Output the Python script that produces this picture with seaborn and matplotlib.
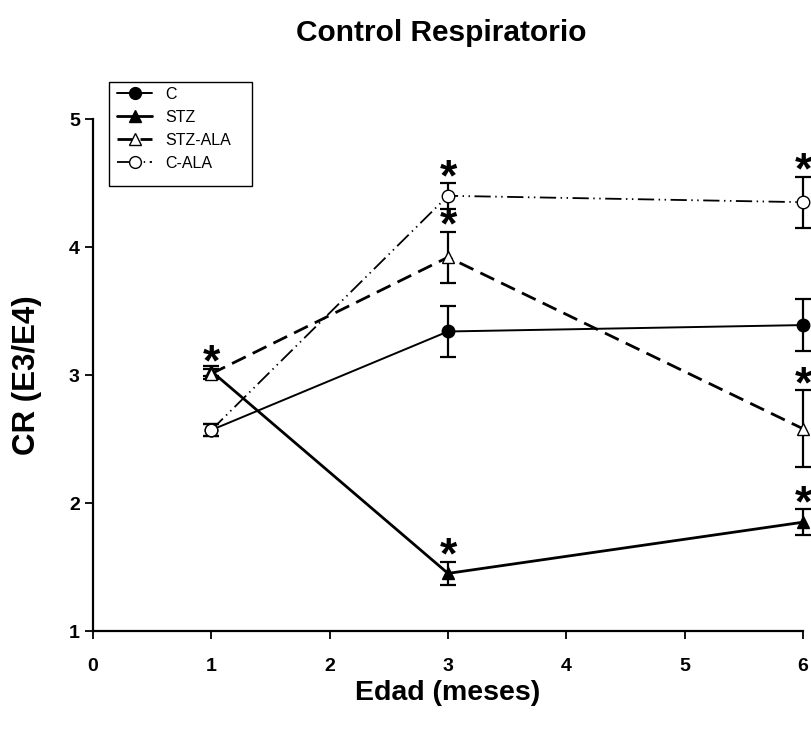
import matplotlib
matplotlib.use("Agg")
import matplotlib.pyplot as plt
from matplotlib.patches import Rectangle
import seaborn as sns
import pandas as pd

# ---- data ----
edad = [1, 3, 6]
grupos = ["C", "STZ", "STZ-ALA", "C-ALA"]
c_mean = [2.57, 3.34, 3.39]
c_se = [0.05, 0.20, 0.20]
stz_mean = [3.03, 1.45, 1.85]
stz_se = [0.04, 0.09, 0.10]
stzala_mean = [3.01, 3.92, 2.58]
stzala_se = [0.04, 0.20, 0.30]
cala_mean = [2.57, 4.40, 4.35]
cala_se = [0.05, 0.10, 0.20]
# significance stars: (x, group)
stars = [(1, "STZ-ALA"), (3, "C-ALA"), (3, "STZ-ALA"), (3, "STZ"),
         (6, "C-ALA"), (6, "STZ-ALA"), (6, "STZ")]
x_ticks = [0, 1, 2, 3, 4, 5, 6]
y_ticks = [1, 2, 3, 4, 5]

means = {"C": c_mean, "STZ": stz_mean, "STZ-ALA": stzala_mean, "C-ALA": cala_mean}
ses = {"C": c_se, "STZ": stz_se, "STZ-ALA": stzala_se, "C-ALA": cala_se}

rows = []
for g in grupos:
    for x, m, s in zip(edad, means[g], ses[g]):
        rows.append({"Edad": x, "CR": m, "SE": s, "Grupo": g})
df = pd.DataFrame(rows)

sns.set_theme(style="ticks")
plt.rcParams["font.family"] = ["Liberation Sans", "DejaVu Sans"]
for k in ["text.color", "axes.labelcolor", "xtick.color", "ytick.color", "axes.edgecolor"]:
    plt.rcParams[k] = "black"

styles = {
    "C": dict(marker="o", mfc="black", lw=1.4, ls="-", ms=9),
    "STZ": dict(marker="^", mfc="black", lw=2.0, ls="-", ms=9),
    "STZ-ALA": dict(marker="^", mfc="white", lw=2.0, ls=(0, (5.5, 2.8)), ms=9),
    "C-ALA": dict(marker="o", mfc="white", lw=1.3, ls=(0, (9, 2.5, 0.8, 2.5, 0.8, 2.5)), ms=9),
}

W, H = 812, 731
fig = plt.figure(figsize=(W / 100, H / 100), dpi=100)
ax = fig.add_axes([93 / W, 1 - 631 / H, 710 / W, 512 / H])

for g in grupos:
    sub = df[df["Grupo"] == g]
    eb = ax.errorbar(sub["Edad"], sub["CR"], yerr=sub["SE"], fmt="none", ecolor="black",
                     elinewidth=1.6, capsize=5.5, capthick=1.6, zorder=2)
    for art in eb.lines[1] + eb.lines[2]:
        art.set_clip_on(False)

for g in grupos:
    sub = df[df["Grupo"] == g]
    st = styles[g]
    sns.lineplot(data=sub, x="Edad", y="CR", ax=ax, color="black", marker=st["marker"],
                 markerfacecolor=st["mfc"], markeredgecolor="black", markeredgewidth=1.0,
                 markersize=st["ms"], linewidth=st["lw"], linestyle=st["ls"],
                 label=g, zorder=3, errorbar=None, clip_on=False)

for x, g in stars:
    i = edad.index(x)
    top = means[g][i] + ses[g][i]
    ax.annotate("*", xy=(x, top), xytext=(0, -11.5), textcoords="offset points",
                ha="center", va="bottom", fontsize=32, fontweight="bold", zorder=4,
                annotation_clip=False)

ax.set_xlim(0, 6)
ax.set_ylim(1, 5)
ax.set_xticks(x_ticks)
ax.set_yticks(y_ticks)
ax.tick_params(axis="both", labelsize=14, width=1.3, length=5.5, direction="out")
ax.tick_params(axis="x", pad=14)
ax.tick_params(axis="y", pad=4)
for lab in ax.get_xticklabels() + ax.get_yticklabels():
    lab.set_fontweight("bold")
for sp in ["top", "right"]:
    ax.spines[sp].set_visible(False)
for sp in ["left", "bottom"]:
    ax.spines[sp].set_linewidth(1.6)
    ax.spines[sp].set_color("black")

ax.set_xlabel("Edad (meses)", fontsize=20.5, fontweight="bold", va="center")
ax.set_ylabel("CR (E3/E4)", fontsize=22.5, fontweight="bold")
ax.xaxis.set_label_coords(0.5, (631 - 693) / 512)
ax.yaxis.set_label_coords((42 - 93) / 710, 0.5)
fig.text(0.543, 0.955, "Control Respiratorio", fontsize=21.5, fontweight="bold",
         ha="center", va="center")

leg = ax.legend(loc="upper left", bbox_to_anchor=(117 / W, 1 - 87 / H),
                bbox_transform=fig.transFigure, fontsize=11.5, frameon=False,
                handlelength=2.2, borderpad=0.0, labelspacing=0.5,
                borderaxespad=0, handletextpad=0.8)
for h in leg.legend_handles:
    h.set_markersize(8.5)
fig.patches.append(Rectangle((109 / W, 1 - 186 / H), 143 / W, 104 / H,
                             transform=fig.transFigure, fill=False,
                             edgecolor="black", linewidth=1.0))

fig.savefig("out.png", dpi=100)
